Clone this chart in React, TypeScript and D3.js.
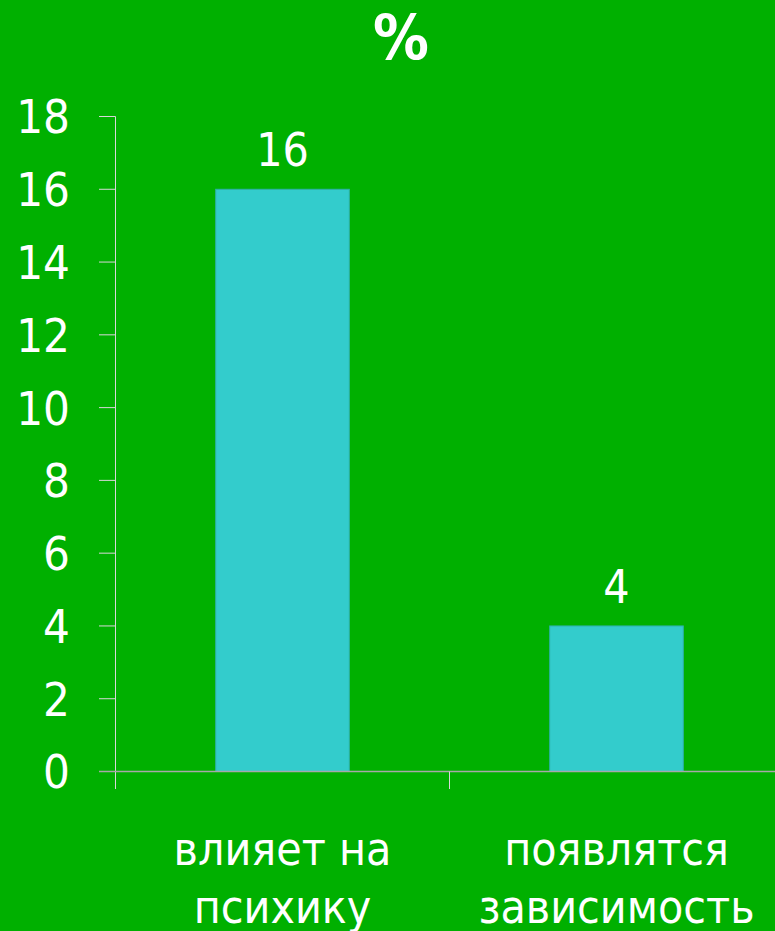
import React from "react";
import * as d3 from "d3";

// chart data
const categories = [["влияет на", "психику"], ["появлятся", "зависимость"]];
const values = [16, 4];
const yTicks = [0, 2, 4, 6, 8, 10, 12, 14, 16, 18];
const title = "%";

const W = 775;
const H = 931;
const FONT = "'DejaVu Sans Condensed', 'DejaVu Sans', sans-serif";

export default function App() {
    const x = d3
        .scaleBand<number>()
        .domain(values.map((_, i) => i))
        .range([115.5, 783.5])
        .paddingInner(0.6)
        .paddingOuter(0.3);

    const y = d3.scaleLinear().domain([0, 18]).range([771.5, 116.5]);

    return (
        <svg
            width={W}
            height={H}
            style={{ position: "absolute", left: 0, top: 0, display: "block" }}
        >
            <rect width={W} height={H} fill="#00b000" />

            {/* title */}
            <text
                x={401}
                y={59}
                textAnchor="middle"
                fill="#fff"
                fontFamily={FONT}
                fontWeight="bold"
                fontSize={62}
            >
                {title}
            </text>

            {/* y axis */}
            <line x1={115.5} x2={115.5} y1={116.5} y2={789} stroke="#d8d8d8" strokeWidth={1} />
            {yTicks.map((t) => (
                <g key={t}>
                    <line x1={99} x2={115.5} y1={y(t)} y2={y(t)} stroke="#d8d8d8" strokeWidth={1} />
                    <text
                        x={70}
                        y={y(t)}
                        dy="0.36em"
                        textAnchor="end"
                        fill="#fff"
                        fontFamily={FONT}
                        fontSize={47}
                    >
                        {t}
                    </text>
                </g>
            ))}

            {/* bars */}
            {values.map((v, i) => (
                <g key={i}>
                    <rect
                        x={x(i)}
                        y={y(v)}
                        width={x.bandwidth()}
                        height={y(0) - y(v)}
                        fill="#33cccc"
                        stroke="#2db0a8"
                        strokeWidth={1}
                    />
                    <text
                        x={(x(i) as number) + x.bandwidth() / 2}
                        y={y(v) - 23}
                        textAnchor="middle"
                        fill="#fff"
                        fontFamily={FONT}
                        fontSize={46}
                    >
                        {v}
                    </text>
                </g>
            ))}

            {/* x axis */}
            <line x1={99} x2={W} y1={771.5} y2={771.5} stroke="#a8a8a8" strokeWidth={1.5} />
            {values.map((_, i) =>
                i > 0 ? (
                    <line
                        key={i}
                        x1={(x(i) as number) - x.step() * 0.3}
                        x2={(x(i) as number) - x.step() * 0.3}
                        y1={771.5}
                        y2={789}
                        stroke="#d8d8d8"
                        strokeWidth={1}
                    />
                ) : null
            )}

            {/* category labels */}
            {categories.map((lines, i) => (
                <text
                    key={i}
                    x={(x(i) as number) + x.bandwidth() / 2}
                    textAnchor="middle"
                    fill="#fff"
                    fontFamily={FONT}
                    fontSize={46}
                >
                    {lines.map((l, j) => (
                        <tspan key={j} x={(x(i) as number) + x.bandwidth() / 2} y={865 + j * 58}>
                            {l}
                        </tspan>
                    ))}
                </text>
            ))}
        </svg>
    );
}
